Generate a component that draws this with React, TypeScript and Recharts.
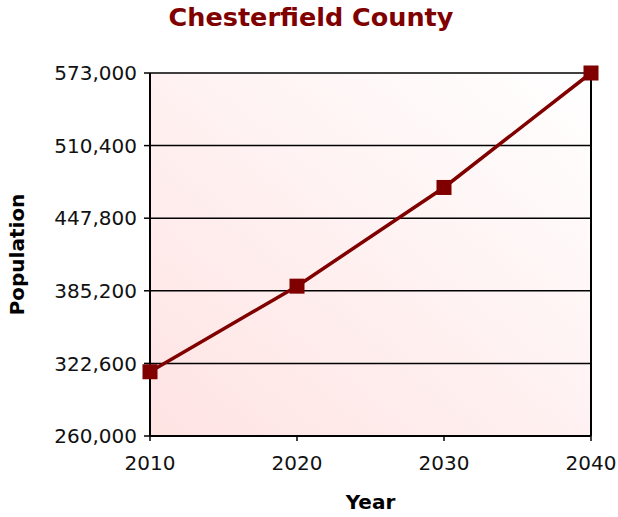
import { LineChart, Line, XAxis, YAxis, CartesianGrid, ReferenceLine } from 'recharts';

const years = [2010, 2020, 2030, 2040];
const population = [315400, 389200, 474300, 573000];
const yTicks = [260000, 322600, 385200, 447800, 510400, 573000];

const data = years.map((year, i) => ({ year, population: population[i] }));

const FONT = '"DejaVu Sans", Verdana, sans-serif';
const RED = '#800000';

function SquareDot(props: any) {
  const { cx, cy } = props;
  if (cx == null || cy == null) return null;
  return <rect x={cx - 7.5} y={cy - 7.5} width={15} height={15} fill={RED} />;
}

export default function App() {
  return (
    <div style={{ position: 'relative', width: 618, height: 517, fontFamily: FONT }}>
      <style>{'body { margin: 0; }'}</style>
      <div
        style={{
          position: 'absolute',
          top: 0,
          left: 0,
          width: 622,
          textAlign: 'center',
          fontSize: 25.5,
          fontWeight: 'bold',
          color: RED,
          lineHeight: '34px',
        }}
      >
        Chesterfield County
      </div>
      <LineChart
        width={618}
        height={517}
        data={data}
        margin={{ top: 73, right: 27, bottom: 0, left: 0 }}
      >
        <defs>
          <linearGradient id="plotBg" x1="0" y1="1" x2="1" y2="0">
            <stop offset="0%" stopColor="#ffe3e3" />
            <stop offset="100%" stopColor="#ffffff" />
          </linearGradient>
        </defs>
        <CartesianGrid
          vertical={false}
          stroke="#000"
          strokeWidth={1.5}
          fill="url(#plotBg)"
          fillOpacity={1}
        />
        <XAxis
          dataKey="year"
          type="category"
          padding={{ left: 0, right: 0 }}
          height={81}
          axisLine={{ stroke: '#000', strokeWidth: 2 }}
          tickLine={{ stroke: '#000', strokeWidth: 1.5 }}
          tickSize={5}
          tickMargin={15}
          tick={{ fontSize: 20, fill: '#111', fontFamily: FONT }}
          label={{
            value: 'Year',
            position: 'insideBottom',
            offset: 8,
            style: { fontSize: 20, fontWeight: 'bold', fill: '#000', fontFamily: FONT },
          }}
        />
        <YAxis
          width={150}
          domain={[260000, 573000]}
          ticks={yTicks}
          interval={0}
          axisLine={{ stroke: '#000', strokeWidth: 2 }}
          tickLine={{ stroke: '#000', strokeWidth: 1.5 }}
          tickSize={6}
          tickMargin={7}
          tick={{ fontSize: 20, fill: '#111', fontFamily: FONT }}
          tickFormatter={(v: number) => v.toLocaleString('en-US')}
          label={{
            value: 'Population',
            angle: -90,
            position: 'insideLeft',
            offset: 17,
            style: { fontSize: 20, fontWeight: 'bold', fill: '#000', fontFamily: FONT, textAnchor: 'middle' },
          }}
        />
        <ReferenceLine x={2040} stroke="#000" strokeWidth={2} />
        <Line
          type="linear"
          dataKey="population"
          stroke={RED}
          strokeWidth={3.5}
          dot={<SquareDot />}
          activeDot={false}
          isAnimationActive={false}
        />
      </LineChart>
    </div>
  );
}
